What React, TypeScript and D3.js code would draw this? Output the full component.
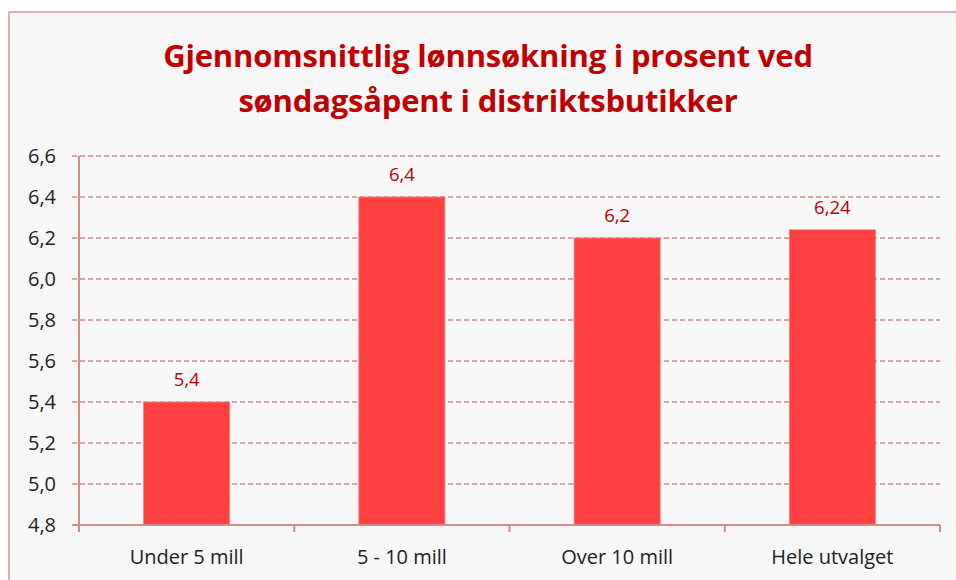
import React from 'react';
import * as d3 from 'd3';

const categories = ['Under 5 mill', '5 - 10 mill', 'Over 10 mill', 'Hele utvalget'];
const values = [5.4, 6.4, 6.2, 6.24];
const yTicks = [4.8, 5.0, 5.2, 5.4, 5.6, 5.8, 6.0, 6.2, 6.4, 6.6];
const titleLines = ['Gjennomsnittlig lønnsøkning i prosent ved', 'søndagsåpent i distriktsbutikker'];

const fmt = (v: number, dec: number) => v.toFixed(dec).replace('.', ',');

export default function App() {
  const width = 956;
  const height = 580;
  const left = 79;
  const right = 940;
  const top = 156;
  const bottom = 525;
  const font = '"Open Sans", "Noto Sans", sans-serif';
  const axisColor = '#d48a8a';

  const x = d3.scaleBand().domain(categories).range([left, right]).paddingInner(0.6).paddingOuter(0.3);
  const y = d3.scaleLinear().domain([4.8, 6.6]).range([bottom, top]);
  const boundaries = categories.map((_, i) => left + i * ((right - left) / categories.length)).concat([right]);

  return (
    <svg width={width} height={height} style={{ position: 'absolute', left: 0, top: 0 }}>
      <rect x={0} y={0} width={width} height={height} fill="#ffffff" />
      <rect x={9} y={12} width={width} height={height} fill="#f7f7f7" stroke="#d99694" strokeWidth={1.5} />
      {titleLines.map((t, i) => (
        <text key={t} x={488} y={67 + i * 45} textAnchor="middle" fontFamily={font} fontWeight="bold"
          fontSize={31} fill="#c00000" letterSpacing={-0.2}>{t}</text>
      ))}
      {yTicks.map((t) => (
        <g key={t}>
          {t > 4.8 && (
            <line x1={72} x2={right} y1={y(t)} y2={y(t)} stroke={axisColor} strokeWidth={1.3} strokeDasharray="5,3" />
          )}
          {t === 4.8 && <line x1={72} x2={left} y1={y(t)} y2={y(t)} stroke={axisColor} strokeWidth={2} />}
          <text x={56} y={y(t)} dy="0.36em" textAnchor="end" fontFamily={font} fontSize={20} fill="#222">
            {fmt(t, 1)}
          </text>
        </g>
      ))}
      {categories.map((c, i) => (
        <g key={c}>
          <rect x={x(c)} y={y(values[i])} width={x.bandwidth()} height={bottom - y(values[i])}
            fill="#ff4040" stroke="#f08080" strokeWidth={0.8} />
          <text x={(x(c) as number) + x.bandwidth() / 2} y={y(values[i]) - 16} textAnchor="middle"
            fontFamily={font} fontSize={18.5} fill="#c00000">
            {fmt(values[i], values[i] === 6.24 ? 2 : 1)}
          </text>
          <text x={(x(c) as number) + x.bandwidth() / 2} y={564} textAnchor="middle" fontFamily={font}
            fontSize={20} fill="#222">{c}</text>
        </g>
      ))}
      <line x1={left} x2={left} y1={top} y2={bottom + 6} stroke={axisColor} strokeWidth={2} />
      <line x1={left} x2={right} y1={bottom} y2={bottom} stroke={axisColor} strokeWidth={2} />
      {boundaries.map((b, i) => (
        <line key={i} x1={b} x2={b} y1={bottom} y2={bottom + 7} stroke={axisColor} strokeWidth={2} />
      ))}
    </svg>
  );
}
